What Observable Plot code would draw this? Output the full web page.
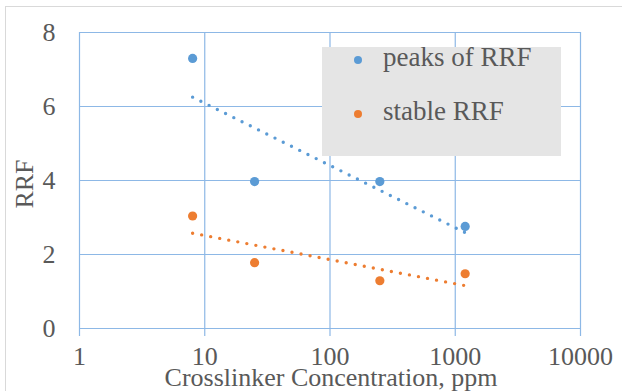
<!DOCTYPE html>
<html>
<head>
<meta charset="utf-8">
<script src="https://cdn.jsdelivr.net/npm/d3@7"></script>
<script src="https://cdn.jsdelivr.net/npm/@observablehq/plot@0.6"></script>
<style>
  html, body { margin: 0; padding: 0; background: #fff; }
  #wrap { position: relative; width: 622px; height: 391px; overflow: hidden; font-family: "Liberation Serif", "Times New Roman", serif; color: #595959; }
  #frame { position: absolute; left: 5px; top: 6px; width: 800px; height: 600px; border: 1px solid #D9D9D9; box-sizing: border-box; }
  #chart { position: absolute; left: 0; top: 0; }
  #ylabel { position: absolute; left: 25px; top: 184px; transform: translate(-50%, -50%) rotate(-90deg); font-size: 26px; white-space: nowrap; line-height: 1; }
  #xlabel { position: absolute; left: 331px; top: 385px; transform: translate(-50%, -78%); font-size: 26px; white-space: nowrap; line-height: 1; }
  #legend { position: absolute; left: 322px; top: 47px; width: 239px; height: 109px; background: #E5E5E5; }
  .item { position: absolute; left: 0; font-size: 27px; white-space: nowrap; line-height: 1; }
  .item .dot { position: absolute; left: 32px; width: 8px; height: 8px; border-radius: 50%; }
  .item .lab { position: absolute; left: 61px; white-space: nowrap; }
</style>
</head>
<body>
<div id="wrap">
  <div id="frame"></div>
  <div id="chart"></div>
  <div id="ylabel">RRF</div>
  <div id="xlabel">Crosslinker Concentration, ppm</div>
  <div id="legend"></div>
</div>
<script>
// Data
const concentration = [8, 25, 250, 1200];
const peaksRRF = [7.3, 3.97, 3.97, 2.76];
const stableRRF = [3.04, 1.78, 1.29, 1.48];
const seriesNames = ["peaks of RRF", "stable RRF"];
const seriesColors = ["#5B9BD5", "#ED7D31"];
const xTicks = [1, 10, 100, 1000, 10000];
const yTicks = [0, 2, 4, 6, 8];

const rows = [];
concentration.forEach((c, i) => {
  rows.push({x: c, y: peaksRRF[i], s: seriesNames[0]});
  rows.push({x: c, y: stableRRF[i], s: seriesNames[1]});
});

// Logarithmic trendline (least squares on ln x), as in the spreadsheet chart
function logTrend(xs, ys, name) {
  const lx = xs.map(Math.log);
  const mx = d3.mean(lx), my = d3.mean(ys);
  const sxy = d3.sum(lx, (v, i) => (v - mx) * (ys[i] - my));
  const sxx = d3.sum(lx, v => (v - mx) ** 2);
  const a = sxy / sxx, b = my - a * mx;
  const ext = d3.extent(xs);
  return ext.map(x => ({x, y: a * Math.log(x) + b, s: name}));
}
const trend0 = logTrend(concentration, peaksRRF, seriesNames[0]);
const trend1 = logTrend(concentration, stableRRF, seriesNames[1]);

const gridColor = "#8DB8E6";
const textColor = "#595959";

const plot = Plot.plot({
  width: 622,
  height: 391,
  marginLeft: 79,
  marginRight: 42,
  marginTop: 32,
  marginBottom: 63,
  style: {fontFamily: "'Liberation Serif', 'Times New Roman', serif", fontSize: "26px", color: textColor, background: "transparent"},
  x: {type: "log", domain: [1, 10000], ticks: xTicks, tickFormat: d3.format("d"), label: null},
  y: {domain: [0, 8], ticks: yTicks, label: null},
  color: {domain: seriesNames, range: seriesColors},
  marks: [
    Plot.ruleY(yTicks, {stroke: gridColor, strokeWidth: 1.2, strokeOpacity: 1}),
    Plot.ruleX(xTicks, {stroke: gridColor, strokeWidth: 1.2, strokeOpacity: 1, insetBottom: -8}),
    Plot.axisX({ticks: xTicks, tickFormat: d3.format("d"), tickSize: 0, tickPadding: 18, fontSize: 26, fill: textColor, label: null}),
    Plot.axisY({ticks: yTicks, tickSize: 0, tickPadding: 24, fontSize: 26, fill: textColor, label: null}),
    Plot.line(trend0, {x: "x", y: "y", stroke: seriesColors[0], strokeWidth: 3.4, strokeDasharray: "0 9.2", strokeLinecap: "round"}),
    Plot.line(trend1, {x: "x", y: "y", stroke: seriesColors[1], strokeWidth: 3.4, strokeDasharray: "0 9.2", strokeLinecap: "round"}),
    Plot.dot(rows, {x: "x", y: "y", fill: "s", r: 4.6, stroke: null})
  ]
});
document.getElementById("chart").appendChild(plot);

// Legend
const legend = document.getElementById("legend");
const legendTops = [-3, 51];
seriesNames.forEach((name, i) => {
  const it = document.createElement("div");
  it.className = "item";
  it.style.top = legendTops[i] + "px";
  const dot = document.createElement("span");
  dot.className = "dot";
  dot.style.background = seriesColors[i];
  dot.style.top = "12px";
  const lab = document.createElement("span");
  lab.className = "lab";
  lab.textContent = name;
  it.appendChild(dot);
  it.appendChild(lab);
  legend.appendChild(it);
});
</script>
</body>
</html>
